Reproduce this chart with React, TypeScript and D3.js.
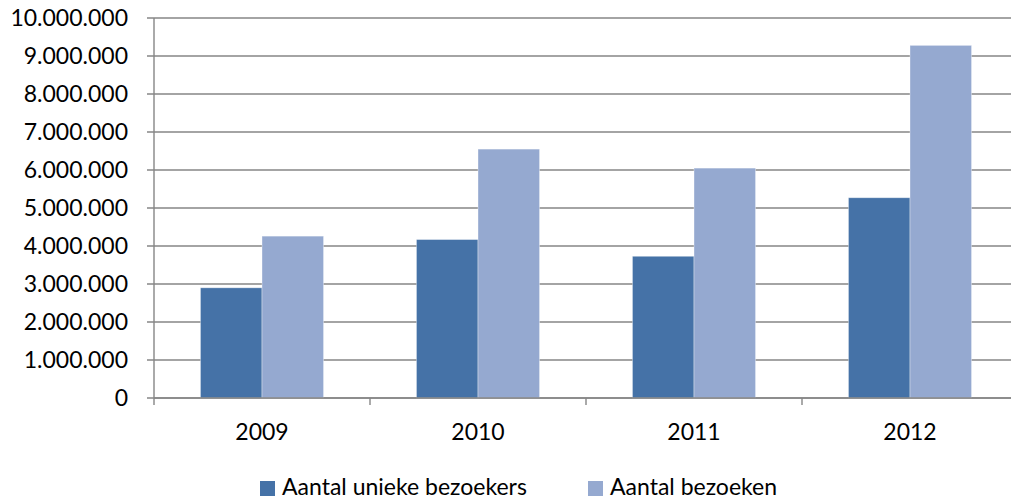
import React from "react";
import * as d3 from "d3";

const years = ["2009", "2010", "2011", "2012"];
const seriesNames = ["Aantal unieke bezoekers", "Aantal bezoeken"];
const uniekeBezoekers = [2900000, 4170000, 3730000, 5270000];
const bezoeken = [4260000, 6550000, 6050000, 9280000];
const yTicks = [0, 1000000, 2000000, 3000000, 4000000, 5000000, 6000000, 7000000, 8000000, 9000000, 10000000];
const colors = ["#4572A7", "#95A9D0"];

const W = 1011;
const H = 499;
const FONT = "Lato, 'Open Sans', sans-serif";

const fmt = (v: number) => d3.format(",")(v).replace(/,/g, ".");

export default function App() {
  const x = d3.scaleBand<string>().domain(years).range([154, 1018]).paddingInner(0.43).paddingOuter(0.215);
  const xs = d3.scaleBand<number>().domain([0, 1]).range([0, x.bandwidth()]);
  const y = d3.scaleLinear().domain([0, 10000000]).range([398, 18]);
  const values = [uniekeBezoekers, bezoeken];
  const step = x.step();
  const bounds = years.map((_, i) => 154 + i * step);

  return (
    <svg width={W} height={H} style={{ position: "absolute", left: 0, top: 0, background: "#fff" }}>
      {/* gridlines */}
      {yTicks.map((t) => (
        <g key={t}>
          <line x1={147} x2={W} y1={y(t)} y2={y(t)} stroke="#868686" strokeWidth={1.4} />
          <text x={128} y={y(t)} dy="0.35em" textAnchor="end" fontFamily={FONT} fontSize={23} fill="#000">
            {fmt(t)}
          </text>
        </g>
      ))}
      {/* bars */}
      {years.map((yr, i) => (
        <g key={yr} transform={`translate(${x(yr)},0)`}>
          {values.map((s, k) => (
            <rect
              key={k}
              x={xs(k)}
              y={y(s[i])}
              width={xs.bandwidth()}
              height={y(0) - y(s[i])}
              fill={colors[k]}
              stroke="#ffffff"
              strokeOpacity={0.45}
              strokeWidth={0.8}
            />
          ))}
        </g>
      ))}
      {/* axes */}
      <line x1={154} x2={154} y1={y(10000000)} y2={y(0)} stroke="#868686" strokeWidth={1.4} />
      <line x1={154} x2={W} y1={y(0)} y2={y(0)} stroke="#868686" strokeWidth={1.4} />
      {bounds.map((b) => (
        <line key={b} x1={b} x2={b} y1={y(0)} y2={y(0) + 7} stroke="#868686" strokeWidth={1.4} />
      ))}
      {years.map((yr) => (
        <text key={yr} x={(x(yr) ?? 0) + x.bandwidth() / 2} y={440} textAnchor="middle" fontFamily={FONT} fontSize={23} fill="#000">
          {yr}
        </text>
      ))}
      {/* legend */}
      {seriesNames.map((n, k) => {
        const lx = k === 0 ? 260 : 588;
        return (
          <g key={n}>
            <rect x={lx} y={481} width={15} height={15} fill={colors[k]} />
            <text x={lx + 22} y={495} fontFamily={FONT} fontSize={23} fill="#000">
              {n}
            </text>
          </g>
        );
      })}
    </svg>
  );
}
